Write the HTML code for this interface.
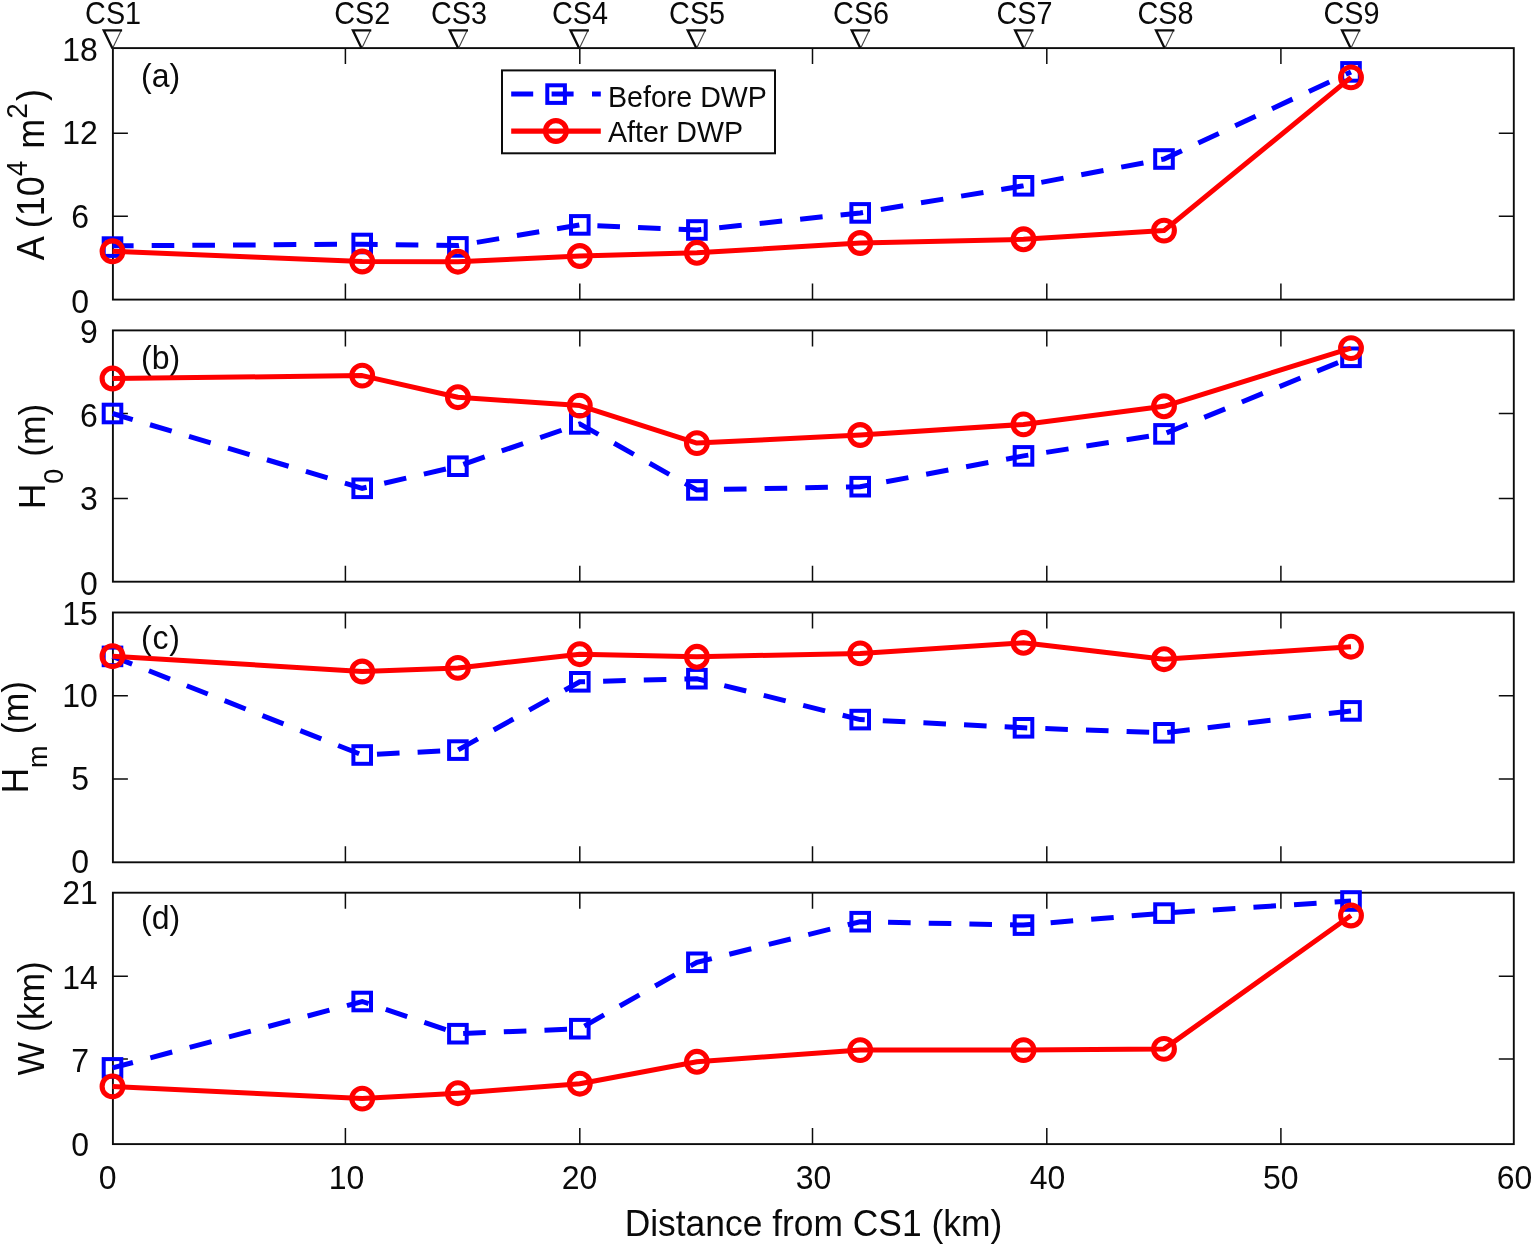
<!DOCTYPE html>
<html lang="en"><head><meta charset="utf-8"><title>Figure</title>
<style>html,body{margin:0;padding:0;background:#fff}svg{display:block;filter:blur(0.4px)}text{font-family:"Liberation Sans", Arial, Helvetica, sans-serif;fill:#0a0a0a}</style></head><body>
<svg width="1535" height="1247" viewBox="0 0 1535 1247">
<rect width="1535" height="1247" fill="#fff"/>
<g>
<rect x="112.9" y="48.1" width="1400.9" height="251.5" fill="none" stroke="#0c0c0c" stroke-width="1.9"/>
<path d="M345.4 299.6v-16.0M345.4 48.1v16.0M579.8 299.6v-16.0M579.8 48.1v16.0M812.5 299.6v-16.0M812.5 48.1v16.0M1046.8 299.6v-16.0M1046.8 48.1v16.0M1280.9 299.6v-16.0M1280.9 48.1v16.0M112.9 133.3h15.0M1513.8 133.3h-15.0M112.9 216.3h15.0M1513.8 216.3h-15.0" stroke="#0c0c0c" stroke-width="1.5" fill="none"/>
<text transform="translate(80.1,60.9) scale(1,1.055)" font-size="32.0" text-anchor="middle">18</text>
<text transform="translate(80.1,144.1) scale(1,1.055)" font-size="32.0" text-anchor="middle">12</text>
<text transform="translate(80.1,227.6) scale(1,1.055)" font-size="32.0" text-anchor="middle">6</text>
<text transform="translate(80.1,312.6) scale(1,1.055)" font-size="32.0" text-anchor="middle">0</text>
</g>
<g>
<rect x="112.9" y="330.4" width="1400.9" height="251.3" fill="none" stroke="#0c0c0c" stroke-width="1.9"/>
<path d="M345.4 581.7v-16.0M345.4 330.4v16.0M579.8 581.7v-16.0M579.8 330.4v16.0M812.5 581.7v-16.0M812.5 330.4v16.0M1046.8 581.7v-16.0M1046.8 330.4v16.0M1280.9 581.7v-16.0M1280.9 330.4v16.0M112.9 413.4h15.0M1513.8 413.4h-15.0M112.9 498.5h15.0M1513.8 498.5h-15.0" stroke="#0c0c0c" stroke-width="1.5" fill="none"/>
<text transform="translate(88.8,343.1) scale(1,1.055)" font-size="32.0" text-anchor="middle">9</text>
<text transform="translate(88.8,426.7) scale(1,1.055)" font-size="32.0" text-anchor="middle">6</text>
<text transform="translate(88.8,509.6) scale(1,1.055)" font-size="32.0" text-anchor="middle">3</text>
<text transform="translate(88.8,594.7) scale(1,1.055)" font-size="32.0" text-anchor="middle">0</text>
</g>
<g>
<rect x="112.9" y="612.5" width="1400.9" height="249.8" fill="none" stroke="#0c0c0c" stroke-width="1.9"/>
<path d="M345.4 862.3v-16.0M345.4 612.5v16.0M579.8 862.3v-16.0M579.8 612.5v16.0M812.5 862.3v-16.0M812.5 612.5v16.0M1046.8 862.3v-16.0M1046.8 612.5v16.0M1280.9 862.3v-16.0M1280.9 612.5v16.0M112.9 695.7h15.0M1513.8 695.7h-15.0M112.9 778.9h15.0M1513.8 778.9h-15.0" stroke="#0c0c0c" stroke-width="1.5" fill="none"/>
<text transform="translate(80.1,624.7) scale(1,1.055)" font-size="32.0" text-anchor="middle">15</text>
<text transform="translate(80.1,706.9) scale(1,1.055)" font-size="32.0" text-anchor="middle">10</text>
<text transform="translate(80.1,790.3) scale(1,1.055)" font-size="32.0" text-anchor="middle">5</text>
<text transform="translate(80.1,873.4) scale(1,1.055)" font-size="32.0" text-anchor="middle">0</text>
</g>
<g>
<rect x="112.9" y="892.7" width="1400.9" height="251.4" fill="none" stroke="#0c0c0c" stroke-width="1.9"/>
<path d="M345.4 1144.1v-16.0M345.4 892.7v16.0M579.8 1144.1v-16.0M579.8 892.7v16.0M812.5 1144.1v-16.0M812.5 892.7v16.0M1046.8 1144.1v-16.0M1046.8 892.7v16.0M1280.9 1144.1v-16.0M1280.9 892.7v16.0M112.9 976.2h15.0M1513.8 976.2h-15.0M112.9 1059.1h15.0M1513.8 1059.1h-15.0" stroke="#0c0c0c" stroke-width="1.5" fill="none"/>
<text transform="translate(80.1,903.7) scale(1,1.055)" font-size="32.0" text-anchor="middle">21</text>
<text transform="translate(80.1,988.6) scale(1,1.055)" font-size="32.0" text-anchor="middle">14</text>
<text transform="translate(80.1,1071.8) scale(1,1.055)" font-size="32.0" text-anchor="middle">7</text>
<text transform="translate(80.1,1155.5) scale(1,1.055)" font-size="32.0" text-anchor="middle">0</text>
</g>
<text transform="translate(141.0,86.6) scale(1,1.055)" font-size="32.0">(a)</text>
<text transform="translate(141.0,368.5) scale(1,1.055)" font-size="32.0">(b)</text>
<text transform="translate(141.0,649.2) scale(1,1.055)" font-size="32.0" letter-spacing="0.8">(c)</text>
<text transform="translate(141.0,929.2) scale(1,1.055)" font-size="32.0">(d)</text>
<polyline points="112.5,245.8 362.2,244.2 457.9,245.6 579.8,224.9 696.9,230.0 860.2,212.9 1023.5,185.8 1164.0,159.0 1351.0,71.9" fill="none" stroke="#00f" stroke-width="5" stroke-dasharray="22.6 18.08" stroke-dashoffset="1.5"/>
<rect x="103.7" y="238.3" width="17.6" height="17.6" fill="none" stroke="#00f" stroke-width="4"/>
<rect x="353.4" y="234.7" width="17.6" height="17.6" fill="none" stroke="#00f" stroke-width="4"/>
<rect x="449.1" y="238.1" width="17.6" height="17.6" fill="none" stroke="#00f" stroke-width="4"/>
<rect x="571.0" y="216.1" width="17.6" height="17.6" fill="none" stroke="#00f" stroke-width="4"/>
<rect x="688.1" y="221.2" width="17.6" height="17.6" fill="none" stroke="#00f" stroke-width="4"/>
<rect x="851.4" y="204.1" width="17.6" height="17.6" fill="none" stroke="#00f" stroke-width="4"/>
<rect x="1014.7" y="177.0" width="17.6" height="17.6" fill="none" stroke="#00f" stroke-width="4"/>
<rect x="1155.2" y="150.2" width="17.6" height="17.6" fill="none" stroke="#00f" stroke-width="4"/>
<rect x="1342.2" y="63.1" width="17.6" height="17.6" fill="none" stroke="#00f" stroke-width="4"/>
<polyline points="112.5,251.3 362.2,261.5 457.9,261.7 579.8,256.0 696.9,252.8 860.2,243.0 1023.5,239.3 1164.0,230.6 1351.0,77.4" fill="none" stroke="#f00" stroke-width="5" stroke-linejoin="round"/>
<circle cx="112.5" cy="251.3" r="10.4" fill="none" stroke="#f00" stroke-width="5.1"/>
<circle cx="362.2" cy="261.5" r="10.4" fill="none" stroke="#f00" stroke-width="5.1"/>
<circle cx="457.9" cy="261.7" r="10.4" fill="none" stroke="#f00" stroke-width="5.1"/>
<circle cx="579.8" cy="256.0" r="10.4" fill="none" stroke="#f00" stroke-width="5.1"/>
<circle cx="696.9" cy="252.8" r="10.4" fill="none" stroke="#f00" stroke-width="5.1"/>
<circle cx="860.2" cy="243.0" r="10.4" fill="none" stroke="#f00" stroke-width="5.1"/>
<circle cx="1023.5" cy="239.3" r="10.4" fill="none" stroke="#f00" stroke-width="5.1"/>
<circle cx="1164.0" cy="230.6" r="10.4" fill="none" stroke="#f00" stroke-width="5.1"/>
<circle cx="1351.0" cy="77.4" r="10.4" fill="none" stroke="#f00" stroke-width="5.1"/>
<polyline points="112.5,413.5 362.2,488.3 457.9,466.2 579.8,423.9 696.9,489.9 860.2,486.7 1023.5,455.9 1164.0,433.9 1351.0,357.3" fill="none" stroke="#00f" stroke-width="5" stroke-dasharray="22.6 18.08" stroke-dashoffset="1.5"/>
<rect x="103.7" y="404.7" width="17.6" height="17.6" fill="none" stroke="#00f" stroke-width="4"/>
<rect x="353.4" y="479.5" width="17.6" height="17.6" fill="none" stroke="#00f" stroke-width="4"/>
<rect x="449.1" y="457.4" width="17.6" height="17.6" fill="none" stroke="#00f" stroke-width="4"/>
<rect x="571.0" y="415.1" width="17.6" height="17.6" fill="none" stroke="#00f" stroke-width="4"/>
<rect x="688.1" y="481.1" width="17.6" height="17.6" fill="none" stroke="#00f" stroke-width="4"/>
<rect x="851.4" y="477.9" width="17.6" height="17.6" fill="none" stroke="#00f" stroke-width="4"/>
<rect x="1014.7" y="447.1" width="17.6" height="17.6" fill="none" stroke="#00f" stroke-width="4"/>
<rect x="1155.2" y="425.1" width="17.6" height="17.6" fill="none" stroke="#00f" stroke-width="4"/>
<rect x="1342.2" y="348.5" width="17.6" height="17.6" fill="none" stroke="#00f" stroke-width="4"/>
<polyline points="112.5,378.5 362.2,375.6 457.9,397.2 579.8,405.6 696.9,443.1 860.2,435.0 1023.5,424.4 1164.0,406.3 1351.0,348.1" fill="none" stroke="#f00" stroke-width="5" stroke-linejoin="round"/>
<circle cx="112.5" cy="378.5" r="10.4" fill="none" stroke="#f00" stroke-width="5.1"/>
<circle cx="362.2" cy="375.6" r="10.4" fill="none" stroke="#f00" stroke-width="5.1"/>
<circle cx="457.9" cy="397.2" r="10.4" fill="none" stroke="#f00" stroke-width="5.1"/>
<circle cx="579.8" cy="405.6" r="10.4" fill="none" stroke="#f00" stroke-width="5.1"/>
<circle cx="696.9" cy="443.1" r="10.4" fill="none" stroke="#f00" stroke-width="5.1"/>
<circle cx="860.2" cy="435.0" r="10.4" fill="none" stroke="#f00" stroke-width="5.1"/>
<circle cx="1023.5" cy="424.4" r="10.4" fill="none" stroke="#f00" stroke-width="5.1"/>
<circle cx="1164.0" cy="406.3" r="10.4" fill="none" stroke="#f00" stroke-width="5.1"/>
<circle cx="1351.0" cy="348.1" r="10.4" fill="none" stroke="#f00" stroke-width="5.1"/>
<polyline points="112.5,656.4 362.2,755.0 457.9,750.1 579.8,681.8 696.9,678.7 860.2,719.6 1023.5,727.8 1164.0,732.8 1351.0,710.9" fill="none" stroke="#00f" stroke-width="5" stroke-dasharray="22.6 18.08" stroke-dashoffset="1.5"/>
<rect x="103.7" y="647.6" width="17.6" height="17.6" fill="none" stroke="#00f" stroke-width="4"/>
<rect x="353.4" y="746.2" width="17.6" height="17.6" fill="none" stroke="#00f" stroke-width="4"/>
<rect x="449.1" y="741.3" width="17.6" height="17.6" fill="none" stroke="#00f" stroke-width="4"/>
<rect x="571.0" y="673.0" width="17.6" height="17.6" fill="none" stroke="#00f" stroke-width="4"/>
<rect x="688.1" y="669.9" width="17.6" height="17.6" fill="none" stroke="#00f" stroke-width="4"/>
<rect x="851.4" y="710.8" width="17.6" height="17.6" fill="none" stroke="#00f" stroke-width="4"/>
<rect x="1014.7" y="719.0" width="17.6" height="17.6" fill="none" stroke="#00f" stroke-width="4"/>
<rect x="1155.2" y="724.0" width="17.6" height="17.6" fill="none" stroke="#00f" stroke-width="4"/>
<rect x="1342.2" y="702.1" width="17.6" height="17.6" fill="none" stroke="#00f" stroke-width="4"/>
<polyline points="112.5,656.2 362.2,671.5 457.9,667.9 579.8,654.2 696.9,656.8 860.2,653.4 1023.5,642.8 1164.0,659.2 1351.0,646.7" fill="none" stroke="#f00" stroke-width="5" stroke-linejoin="round"/>
<circle cx="112.5" cy="656.2" r="10.4" fill="none" stroke="#f00" stroke-width="5.1"/>
<circle cx="362.2" cy="671.5" r="10.4" fill="none" stroke="#f00" stroke-width="5.1"/>
<circle cx="457.9" cy="667.9" r="10.4" fill="none" stroke="#f00" stroke-width="5.1"/>
<circle cx="579.8" cy="654.2" r="10.4" fill="none" stroke="#f00" stroke-width="5.1"/>
<circle cx="696.9" cy="656.8" r="10.4" fill="none" stroke="#f00" stroke-width="5.1"/>
<circle cx="860.2" cy="653.4" r="10.4" fill="none" stroke="#f00" stroke-width="5.1"/>
<circle cx="1023.5" cy="642.8" r="10.4" fill="none" stroke="#f00" stroke-width="5.1"/>
<circle cx="1164.0" cy="659.2" r="10.4" fill="none" stroke="#f00" stroke-width="5.1"/>
<circle cx="1351.0" cy="646.7" r="10.4" fill="none" stroke="#f00" stroke-width="5.1"/>
<polyline points="112.5,1067.9 362.2,1001.5 457.9,1033.7 579.8,1028.7 696.9,962.3 860.2,921.7 1023.5,925.1 1164.0,913.1 1351.0,901.0" fill="none" stroke="#00f" stroke-width="5" stroke-dasharray="22.6 18.08" stroke-dashoffset="1.5"/>
<rect x="103.7" y="1059.1" width="17.6" height="17.6" fill="none" stroke="#00f" stroke-width="4"/>
<rect x="353.4" y="992.7" width="17.6" height="17.6" fill="none" stroke="#00f" stroke-width="4"/>
<rect x="449.1" y="1024.9" width="17.6" height="17.6" fill="none" stroke="#00f" stroke-width="4"/>
<rect x="571.0" y="1019.9" width="17.6" height="17.6" fill="none" stroke="#00f" stroke-width="4"/>
<rect x="688.1" y="953.5" width="17.6" height="17.6" fill="none" stroke="#00f" stroke-width="4"/>
<rect x="851.4" y="912.9" width="17.6" height="17.6" fill="none" stroke="#00f" stroke-width="4"/>
<rect x="1014.7" y="916.3" width="17.6" height="17.6" fill="none" stroke="#00f" stroke-width="4"/>
<rect x="1155.2" y="904.3" width="17.6" height="17.6" fill="none" stroke="#00f" stroke-width="4"/>
<rect x="1342.2" y="892.2" width="17.6" height="17.6" fill="none" stroke="#00f" stroke-width="4"/>
<polyline points="112.5,1086.4 362.2,1098.6 457.9,1093.2 579.8,1083.7 696.9,1061.8 860.2,1050.1 1023.5,1050.1 1164.0,1048.9 1351.0,915.5" fill="none" stroke="#f00" stroke-width="5" stroke-linejoin="round"/>
<circle cx="112.5" cy="1086.4" r="10.4" fill="none" stroke="#f00" stroke-width="5.1"/>
<circle cx="362.2" cy="1098.6" r="10.4" fill="none" stroke="#f00" stroke-width="5.1"/>
<circle cx="457.9" cy="1093.2" r="10.4" fill="none" stroke="#f00" stroke-width="5.1"/>
<circle cx="579.8" cy="1083.7" r="10.4" fill="none" stroke="#f00" stroke-width="5.1"/>
<circle cx="696.9" cy="1061.8" r="10.4" fill="none" stroke="#f00" stroke-width="5.1"/>
<circle cx="860.2" cy="1050.1" r="10.4" fill="none" stroke="#f00" stroke-width="5.1"/>
<circle cx="1023.5" cy="1050.1" r="10.4" fill="none" stroke="#f00" stroke-width="5.1"/>
<circle cx="1164.0" cy="1048.9" r="10.4" fill="none" stroke="#f00" stroke-width="5.1"/>
<circle cx="1351.0" cy="915.5" r="10.4" fill="none" stroke="#f00" stroke-width="5.1"/>
<text transform="translate(113.1,23.9) scale(1,1.065)" font-size="28.8" text-anchor="middle">CS1</text>
<path d="M121.3 30.3L112.5 48.4" fill="none" stroke="#444" stroke-width="1.1"/>
<path d="M122.1 30.3H103.7L112.5 48.6" fill="none" stroke="#0c0c0c" stroke-width="2.3" stroke-linejoin="miter"/>
<text transform="translate(362.3,23.9) scale(1,1.065)" font-size="28.8" text-anchor="middle">CS2</text>
<path d="M370.5 30.3L361.7 48.4" fill="none" stroke="#444" stroke-width="1.1"/>
<path d="M371.3 30.3H352.9L361.7 48.6" fill="none" stroke="#0c0c0c" stroke-width="2.3" stroke-linejoin="miter"/>
<text transform="translate(459.0,23.9) scale(1,1.065)" font-size="28.8" text-anchor="middle">CS3</text>
<path d="M467.2 30.3L458.4 48.4" fill="none" stroke="#444" stroke-width="1.1"/>
<path d="M468.0 30.3H449.6L458.4 48.6" fill="none" stroke="#0c0c0c" stroke-width="2.3" stroke-linejoin="miter"/>
<text transform="translate(579.9,23.9) scale(1,1.065)" font-size="28.8" text-anchor="middle">CS4</text>
<path d="M588.1 30.3L579.3 48.4" fill="none" stroke="#444" stroke-width="1.1"/>
<path d="M588.9 30.3H570.5L579.3 48.6" fill="none" stroke="#0c0c0c" stroke-width="2.3" stroke-linejoin="miter"/>
<text transform="translate(697.1,23.9) scale(1,1.065)" font-size="28.8" text-anchor="middle">CS5</text>
<path d="M705.3 30.3L696.5 48.4" fill="none" stroke="#444" stroke-width="1.1"/>
<path d="M706.1 30.3H687.7L696.5 48.6" fill="none" stroke="#0c0c0c" stroke-width="2.3" stroke-linejoin="miter"/>
<text transform="translate(861.1,23.9) scale(1,1.065)" font-size="28.8" text-anchor="middle">CS6</text>
<path d="M869.3 30.3L860.5 48.4" fill="none" stroke="#444" stroke-width="1.1"/>
<path d="M870.1 30.3H851.7L860.5 48.6" fill="none" stroke="#0c0c0c" stroke-width="2.3" stroke-linejoin="miter"/>
<text transform="translate(1024.5,23.9) scale(1,1.065)" font-size="28.8" text-anchor="middle">CS7</text>
<path d="M1032.7 30.3L1023.9 48.4" fill="none" stroke="#444" stroke-width="1.1"/>
<path d="M1033.5 30.3H1015.1L1023.9 48.6" fill="none" stroke="#0c0c0c" stroke-width="2.3" stroke-linejoin="miter"/>
<text transform="translate(1165.4,23.9) scale(1,1.065)" font-size="28.8" text-anchor="middle">CS8</text>
<path d="M1173.6 30.3L1164.8 48.4" fill="none" stroke="#444" stroke-width="1.1"/>
<path d="M1174.4 30.3H1156.0L1164.8 48.6" fill="none" stroke="#0c0c0c" stroke-width="2.3" stroke-linejoin="miter"/>
<text transform="translate(1351.4,23.9) scale(1,1.065)" font-size="28.8" text-anchor="middle">CS9</text>
<path d="M1359.6 30.3L1350.8 48.4" fill="none" stroke="#444" stroke-width="1.1"/>
<path d="M1360.4 30.3H1342.0L1350.8 48.6" fill="none" stroke="#0c0c0c" stroke-width="2.3" stroke-linejoin="miter"/>
<rect x="502" y="70.4" width="273" height="82.9" fill="#fff" stroke="#0c0c0c" stroke-width="2"/>
<path d="M511.2 94.1H600.8" stroke="#00f" stroke-width="5" stroke-dasharray="22 18.4" fill="none"/>
<rect x="547.3" y="85.3" width="17.6" height="17.6" fill="none" stroke="#00f" stroke-width="4"/>
<path d="M511.2 131.2H600.8" stroke="#f00" stroke-width="5.2" fill="none"/>
<circle cx="555.9" cy="131" r="10.4" fill="none" stroke="#f00" stroke-width="5.1"/>
<text transform="translate(608.0,106.8) scale(1,1.055)" font-size="28.6">Before DWP</text>
<text transform="translate(608.0,142.4) scale(1,1.055)" font-size="28.6">After DWP</text>
<text transform="translate(107.6,1189.4) scale(1,1.055)" font-size="32.0" text-anchor="middle">0</text>
<text transform="translate(346.6,1189.4) scale(1,1.055)" font-size="32.0" text-anchor="middle">10</text>
<text transform="translate(579.6,1189.4) scale(1,1.055)" font-size="32.0" text-anchor="middle">20</text>
<text transform="translate(813.6,1189.4) scale(1,1.055)" font-size="32.0" text-anchor="middle">30</text>
<text transform="translate(1047.6,1189.4) scale(1,1.055)" font-size="32.0" text-anchor="middle">40</text>
<text transform="translate(1280.8,1189.4) scale(1,1.055)" font-size="32.0" text-anchor="middle">50</text>
<text transform="translate(1514.6,1189.4) scale(1,1.055)" font-size="32.0" text-anchor="middle">60</text>
<text transform="translate(813.4,1236.3) scale(1,1.055)" font-size="35.4" text-anchor="middle">Distance from CS1 (km)</text>
<text transform="translate(43.9,260.3) rotate(-90) scale(1,1.055)" font-size="36.0">A (10<tspan font-size="28" dy="-16.2">4</tspan><tspan dy="16.2" dx="2"> m</tspan><tspan font-size="28" dy="-16.2">2</tspan><tspan dy="16.2" dx="2">)</tspan></text>
<text transform="translate(45.2,509.3) rotate(-90) scale(1,1.055)" font-size="35.5">H<tspan font-size="27" dy="17.3">0</tspan><tspan dy="-17.3" dx="2"> (m)</tspan></text>
<text transform="translate(28.4,793.6) rotate(-90) scale(1,1.055)" font-size="35.5">H<tspan font-size="27" dy="17.3">m</tspan><tspan dy="-17.3" dx="1.5"> (m)</tspan></text>
<text transform="translate(43.8,1075.4) rotate(-90) scale(1,1.055)" font-size="35.5">W (km)</text>
</svg></body></html>
